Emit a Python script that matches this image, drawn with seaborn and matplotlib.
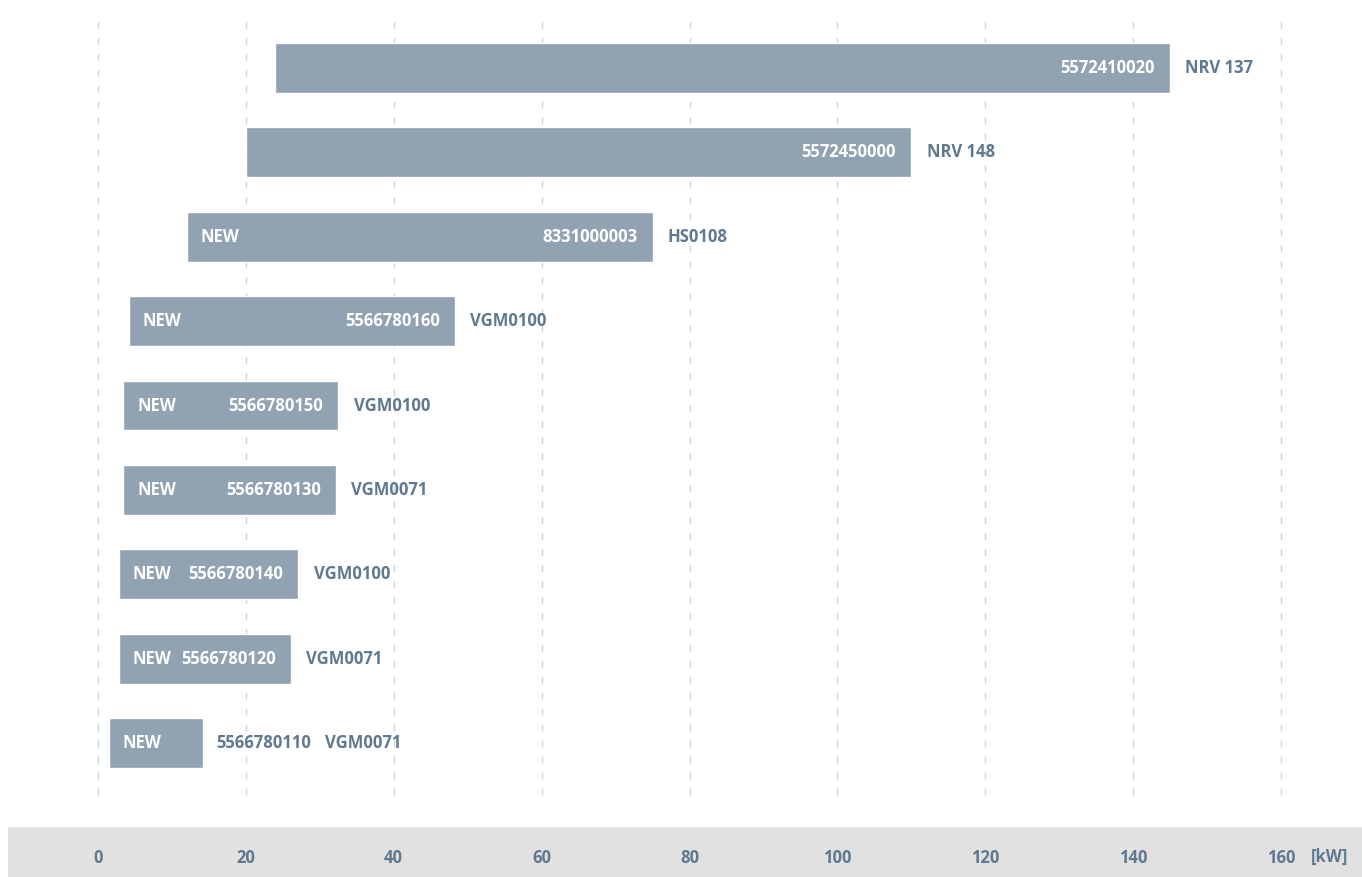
import pandas as pd
import seaborn as sns
import matplotlib.pyplot as plt

# power ranges in kW (start / end) for each unit
codes = ['5572410020', '5572450000', '8331000003', '5566780160', '5566780150',
         '5566780130', '5566780140', '5566780120', '5566780110']
models = ['NRV 137', 'NRV 148', 'HS0108', 'VGM0100', 'VGM0100',
          'VGM0071', 'VGM0100', 'VGM0071', 'VGM0071']
starts = [24, 20, 12, 4.2, 3.4, 3.4, 2.8, 2.8, 1.5]
ends = [145, 110, 75, 48.3, 32.5, 32.2, 27.1, 26.1, 14.2]
is_new = [False, False, True, True, True, True, True, True, True]
ticks = [0, 20, 40, 60, 80, 100, 120, 140, 160]

bar_col = '#91a2b3'
txt_col = '#5f7990'
grid_col = '#cdd5de'
band_col = '#e1e1e1'

df = pd.DataFrame({'code': codes, 'model': models, 'start': starts, 'end': ends})
df['span'] = df['end'] - df['start']

sns.set_style('white')
plt.rcParams['font.family'] = ['Open Sans', 'DejaVu Sans']

W, H = 1362, 877
fig = plt.figure(figsize=(W / 100, H / 100), dpi=100)

# grey band behind the x tick labels
band = fig.add_axes([8 / W, 0, 1 - 8 / W, 50 / H])
band.set_facecolor(band_col)
band.set_xticks([])
band.set_yticks([])
for s in band.spines.values():
    s.set_visible(False)

ax = fig.add_axes([98 / W, 1 - 795 / H, (1281 - 98) / W, (795 - 13) / H])
sns.barplot(data=df, x='span', y='code', left=df['start'], orient='h',
            color=bar_col, saturation=1, width=0.59, errorbar=None, ax=ax,
            order=codes)
ax.set_xlim(0, 160)
ax.set_ylim(8.616, -0.652)
for s in ax.spines.values():
    s.set_visible(False)

ax.set_xticks(ticks)
ax.xaxis.grid(True, color=grid_col, linestyle=(0, (5, 6.5)), linewidth=1)
for gl in ax.get_xgridlines():
    gl.set_clip_on(False)
ax.set_axisbelow(True)
ax.set_yticks([])
ax.set_xlabel('')
ax.set_ylabel('')
ax.tick_params(axis='x', length=0, pad=39, labelsize=12, labelcolor=txt_col)
for lbl in ax.get_xticklabels():
    lbl.set_fontweight('bold')

fig.text(1330 / W, 20 / H, '[kW]', ha='center', va='center', fontsize=12,
         fontweight='bold', color=txt_col)

kw = dict(fontsize=12, fontweight='bold', va='center', textcoords='offset points')
for i, row in df.iterrows():
    short = row['span'] < 20
    if is_new[i]:
        ax.annotate('NEW', (row['start'], i), xytext=(10, 0), ha='left',
                    color='white', **kw)
    if short:
        ax.annotate(row['code'], (row['end'], i), xytext=(9.5, 0), ha='left',
                    color=txt_col, **kw)
        ax.annotate(row['model'], (row['end'], i), xytext=(87.5, 0), ha='left',
                    color=txt_col, **kw)
    else:
        ax.annotate(row['code'], (row['end'], i), xytext=(-11, 0), ha='right',
                    color='white', **kw)
        ax.annotate(row['model'], (row['end'], i), xytext=(11, 0), ha='left',
                    color=txt_col, **kw)

plt.savefig('out.png', dpi=100)
